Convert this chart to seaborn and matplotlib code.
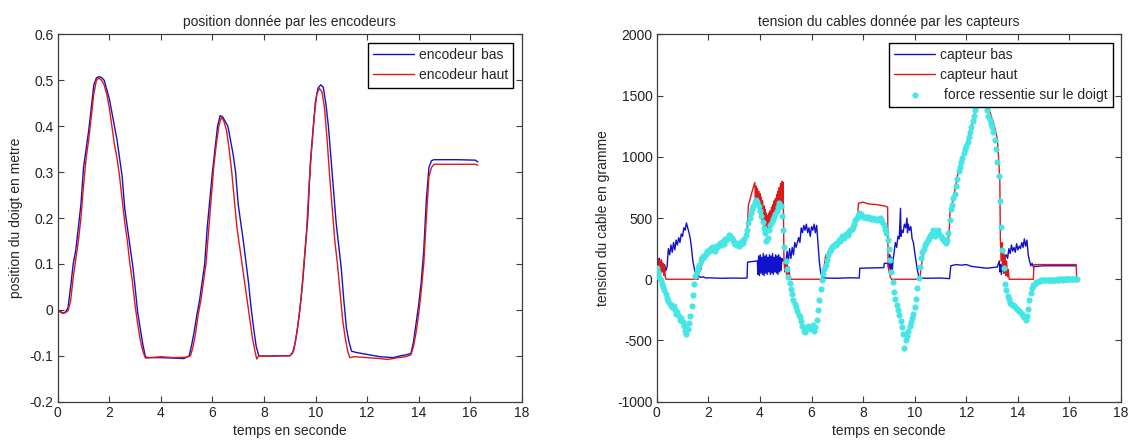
import numpy as np
import pandas as pd
import matplotlib
matplotlib.use("Agg")
import matplotlib.pyplot as plt
import seaborn as sns

# ---------------- data : left panel (position in metres) ----------------
encodeur_bas = [
    (0.0, 0.0), (0.1, -0.003), (0.2, -0.007), (0.3, -0.005), (0.4, 0.005), (0.5, 0.05),
    (0.6, 0.10), (0.7, 0.13), (0.8, 0.18), (0.9, 0.23), (1.0, 0.31), (1.1, 0.35), (1.2, 0.39),
    (1.3, 0.44), (1.4, 0.49), (1.5, 0.505), (1.6, 0.508), (1.7, 0.506), (1.8, 0.50), (1.9, 0.48),
    (2.0, 0.46), (2.1, 0.43), (2.2, 0.40), (2.3, 0.37), (2.4, 0.33), (2.5, 0.29), (2.6, 0.22),
    (2.7, 0.18), (2.8, 0.14), (2.9, 0.10), (3.0, 0.05), (3.1, -0.005), (3.2, -0.04), (3.3, -0.075),
    (3.4, -0.102), (3.5, -0.104), (4.0, -0.104), (4.5, -0.105), (4.9, -0.106), (5.1, -0.10),
    (5.2, -0.075), (5.3, -0.045), (5.4, -0.01), (5.5, 0.02), (5.6, 0.06), (5.7, 0.10), (5.8, 0.18),
    (5.9, 0.24), (6.0, 0.30), (6.1, 0.35), (6.2, 0.40), (6.3, 0.423), (6.4, 0.42), (6.5, 0.41),
    (6.6, 0.40), (6.7, 0.37), (6.8, 0.34), (6.9, 0.30), (7.0, 0.23), (7.1, 0.19), (7.2, 0.15),
    (7.3, 0.105), (7.4, 0.06), (7.5, 0.005), (7.6, -0.04), (7.7, -0.08), (7.8, -0.10), (8.0, -0.101),
    (8.5, -0.10), (9.0, -0.10), (9.1, -0.095), (9.2, -0.075), (9.3, -0.04), (9.4, 0.005), (9.5, 0.06),
    (9.6, 0.13), (9.7, 0.20), (9.8, 0.32), (9.9, 0.39), (10.0, 0.455), (10.1, 0.483), (10.2, 0.49),
    (10.3, 0.485), (10.4, 0.45), (10.5, 0.40), (10.6, 0.33), (10.7, 0.26), (10.8, 0.19), (10.9, 0.14),
    (11.0, 0.09), (11.1, 0.02), (11.2, -0.04), (11.3, -0.07), (11.4, -0.09), (11.6, -0.093),
    (12.0, -0.097), (12.5, -0.102), (13.0, -0.104), (13.3, -0.10), (13.5, -0.098), (13.7, -0.095),
    (13.8, -0.07), (13.9, -0.03), (14.0, 0.01), (14.1, 0.06), (14.2, 0.13), (14.3, 0.24),
    (14.4, 0.31), (14.5, 0.325), (14.6, 0.327), (15.5, 0.327), (16.2, 0.326), (16.3, 0.322),
]
encodeur_haut = [
    (0.0, 0.0), (0.1, -0.005), (0.2, -0.008), (0.3, -0.006), (0.4, -0.002), (0.5, 0.02),
    (0.6, 0.07), (0.7, 0.11), (0.8, 0.15), (0.9, 0.20), (1.0, 0.27), (1.1, 0.33), (1.2, 0.37),
    (1.3, 0.42), (1.4, 0.47), (1.5, 0.50), (1.6, 0.505), (1.7, 0.50), (1.8, 0.49), (1.9, 0.47),
    (2.0, 0.44), (2.1, 0.40), (2.2, 0.36), (2.3, 0.33), (2.4, 0.29), (2.5, 0.24), (2.6, 0.19),
    (2.7, 0.15), (2.8, 0.10), (2.9, 0.06), (3.0, 0.01), (3.1, -0.03), (3.2, -0.065), (3.3, -0.09),
    (3.4, -0.105), (3.6, -0.104), (4.0, -0.102), (4.5, -0.104), (5.0, -0.103), (5.15, -0.10),
    (5.25, -0.08), (5.35, -0.05), (5.45, -0.01), (5.55, 0.02), (5.65, 0.06), (5.75, 0.10),
    (5.85, 0.17), (5.95, 0.24), (6.05, 0.31), (6.15, 0.36), (6.25, 0.40), (6.35, 0.42), (6.45, 0.41),
    (6.55, 0.39), (6.65, 0.35), (6.75, 0.30), (6.85, 0.24), (6.95, 0.18), (7.05, 0.14), (7.15, 0.10),
    (7.25, 0.06), (7.35, 0.02), (7.45, -0.02), (7.55, -0.06), (7.65, -0.09), (7.72, -0.107),
    (7.8, -0.10), (8.2, -0.101), (8.7, -0.10), (9.0, -0.10), (9.15, -0.09), (9.25, -0.06),
    (9.35, -0.02), (9.45, 0.03), (9.55, 0.10), (9.65, 0.17), (9.75, 0.27), (9.85, 0.35), (9.95, 0.42),
    (10.05, 0.47), (10.15, 0.482), (10.25, 0.475), (10.35, 0.44), (10.45, 0.37), (10.55, 0.29),
    (10.65, 0.22), (10.75, 0.15), (10.85, 0.10), (10.95, 0.04), (11.05, -0.02), (11.15, -0.06),
    (11.25, -0.09), (11.33, -0.104), (11.5, -0.102), (12.0, -0.104), (12.5, -0.106), (12.8, -0.108),
    (13.2, -0.104), (13.5, -0.102), (13.7, -0.098), (13.8, -0.08), (13.9, -0.05), (14.0, -0.01),
    (14.1, 0.04), (14.2, 0.10), (14.3, 0.20), (14.4, 0.29), (14.5, 0.31), (14.6, 0.317),
    (16.2, 0.317), (16.3, 0.315),
]

# ---------------- data : right panel (tension in grams) ----------------
capteur_bas = [
    (0.0, 150), (0.05, 60), (0.1, 170), (0.15, 80), (0.2, 140), (0.25, 60), (0.3, 120), (0.35, 70),
    (0.4, 100), (0.45, 250), (0.5, 200), (0.55, 280), (0.6, 220), (0.65, 300), (0.7, 240),
    (0.75, 320), (0.8, 280), (0.85, 340), (0.9, 300), (0.95, 370), (1.0, 350), (1.05, 420),
    (1.1, 400), (1.15, 460), (1.2, 420), (1.25, 380), (1.3, 330), (1.35, 250), (1.4, 150),
    (1.45, 90), (1.5, 50), (1.6, 30), (1.7, 15), (1.8, 20), (1.9, 10), (2.0, 12), (2.5, 8),
    (3.0, 10), (3.3, 8), (3.5, 10), (3.52, 140), (3.9, 150),
    (3.92, 40), (3.95, 190), (3.98, 30), (4.01, 200), (4.04, 50), (4.07, 180), (4.10, 40),
    (4.13, 210), (4.16, 30), (4.19, 190), (4.22, 50), (4.25, 200), (4.28, 40), (4.31, 180),
    (4.34, 60), (4.37, 200), (4.40, 40), (4.43, 190), (4.46, 50), (4.49, 210), (4.52, 40),
    (4.55, 180), (4.58, 60), (4.61, 200), (4.64, 50), (4.67, 190), (4.70, 40), (4.73, 200),
    (4.76, 60), (4.79, 180), (4.82, 70), (4.85, 170), (4.88, 150),
    (4.95, 160), (5.0, 120), (5.05, 230), (5.1, 150), (5.15, 250), (5.2, 170), (5.25, 260),
    (5.3, 200), (5.35, 300), (5.4, 260), (5.5, 340), (5.55, 300), (5.6, 420), (5.65, 380),
    (5.7, 440), (5.75, 400), (5.8, 450), (5.85, 380), (5.9, 420), (5.95, 350), (6.0, 430),
    (6.05, 400), (6.1, 450), (6.15, 380), (6.2, 440), (6.25, 300), (6.3, 150), (6.35, 60),
    (6.4, 20), (6.5, 10), (7.0, 8), (7.5, 12), (7.85, 10), (7.87, 90), (8.8, 95), (8.82, 130),
    (8.95, 130), (9.0, 90), (9.03, 200), (9.06, 60), (9.1, 180), (9.13, 70), (9.16, 150),
    (9.2, 220), (9.25, 300), (9.3, 260), (9.35, 350), (9.4, 330), (9.45, 580), (9.47, 350),
    (9.5, 400), (9.55, 380), (9.6, 450), (9.65, 420), (9.7, 500), (9.72, 380), (9.75, 450),
    (9.8, 400), (9.85, 430), (9.9, 330), (9.95, 300), (10.0, 220), (10.05, 150), (10.1, 80),
    (10.15, 30), (10.2, 10), (10.5, 8), (11.0, 10), (11.35, 5), (11.4, 110), (11.6, 120),
    (11.8, 115), (12.0, 120), (12.2, 105), (12.4, 100), (12.6, 95), (12.8, 90), (13.0, 95),
    (13.2, 100), (13.28, 150), (13.3, 60), (13.33, 120), (13.36, 40), (13.4, 130), (13.45, 50),
    (13.5, 180), (13.55, 200), (13.6, 170), (13.65, 250), (13.7, 210), (13.75, 280), (13.8, 230),
    (13.85, 260), (13.9, 220), (13.95, 290), (14.0, 240), (14.05, 270), (14.1, 250), (14.15, 300),
    (14.2, 260), (14.25, 330), (14.3, 270), (14.35, 320), (14.4, 200), (14.45, 150), (14.5, 110),
    (14.55, 130), (14.6, 100), (14.7, 105), (15.0, 110), (16.26, 110),
]
capteur_haut = [
    (0.0, 180), (0.03, 60), (0.06, 170), (0.09, 50), (0.12, 150), (0.15, 40), (0.18, 160),
    (0.21, 60), (0.24, 130), (0.27, 30), (0.3, 120), (0.33, 20), (0.36, 0), (1.6, 0), (1.63, 120),
    (1.66, 60), (1.69, 180), (1.72, 80), (1.75, 140), (1.8, 150), (1.9, 190), (2.0, 220),
    (2.3, 260), (2.6, 290), (2.9, 330), (3.2, 280), (3.4, 310), (3.5, 380), (3.55, 600),
    (3.7, 720), (3.8, 790),
    (3.825, 650), (3.85, 760), (3.875, 620), (3.9, 740), (3.925, 590), (3.95, 720), (3.975, 560),
    (4.0, 700), (4.025, 520), (4.05, 670), (4.075, 480), (4.1, 640), (4.125, 450), (4.15, 600),
    (4.175, 420), (4.2, 570), (4.225, 400), (4.25, 540), (4.275, 390), (4.3, 520), (4.325, 400),
    (4.35, 540), (4.375, 410), (4.4, 560), (4.425, 430), (4.45, 590), (4.475, 450), (4.5, 610),
    (4.525, 470), (4.55, 640), (4.575, 490), (4.6, 660), (4.625, 510), (4.65, 690), (4.675, 530),
    (4.7, 720), (4.725, 550), (4.75, 750), (4.775, 570), (4.8, 780), (4.825, 580), (4.85, 800),
    (4.875, 600), (4.9, 790),
    (4.93, 180), (4.96, 60), (5.0, 150), (5.03, 40), (5.06, 130), (5.1, 20), (5.13, 100),
    (5.16, 0), (6.4, 0), (6.45, 60), (6.5, 120), (6.55, 200), (6.6, 160), (6.65, 230), (6.7, 250),
    (7.0, 290), (7.3, 340), (7.6, 410), (7.7, 440), (7.78, 500), (7.82, 620), (8.0, 630),
    (8.2, 615), (8.5, 610), (8.8, 600), (8.95, 590), (8.97, 100), (9.05, 20), (9.1, 0), (10.2, 0),
    (10.25, 100), (10.35, 230), (10.6, 330), (10.9, 380), (11.2, 320), (11.33, 350), (11.37, 560),
    (11.5, 660), (11.7, 900), (11.9, 1040), (12.1, 1170), (12.3, 1340), (12.5, 1480),
    (12.65, 1560), (12.8, 1450), (13.0, 1310), (13.1, 1240), (13.2, 1150), (13.25, 1000),
    (13.3, 800), (13.32, 330), (13.35, 150), (13.38, 300), (13.41, 80), (13.44, 250), (13.47, 50),
    (13.5, 200), (13.53, 30), (13.56, 150), (13.6, 20), (13.63, 80), (13.66, 0), (14.6, 0),
    (14.62, 120), (16.26, 120), (16.28, 0),
]
# force felt on the finger, one sample every 0.05 s from t = 0
force_doigt = [
    90, 60, 20, -10, -40, -60, -90, -120, -150, -180, -200, -210, -230, -220, -250, -280, -270, -300, -330, -320,
    -350, -380, -420, -450, -410, -360, -300, -220, -130, -40, 30, 60, 90, 120, 150, 170, 190, 180, 210, 230,
    220, 250, 240, 260, 250, 230, 270, 260, 280, 300, 280, 310, 290, 330, 320, 340, 360, 350, 340, 320,
    300, 290, 280, 300, 270, 290, 310, 300, 330, 360, 400, 460, 500, 540, 570, 600, 630, 650, 630, 600,
    560, 520, 470, 420, 380, 310, 340, 400, 440, 470, 490, 510, 530, 560, 590, 620, 600, 520, 400, 260,
    150, 80, 20, -30, -80, -120, -170, -200, -230, -260, -290, -310, -340, -380, -420, -430, -400, -380, -390, -410,
    -400, -370, -420, -390, -330, -250, -170, -80, -10, 40, 80, 120, 160, 200, 230, 250, 260, 270, 290, 280,
    300, 320, 310, 330, 350, 340, 360, 370, 360, 390, 400, 410, 430, 450, 480, 500, 520, 540, 530, 520,
    510, 505, 510, 500, 505, 500, 495, 500, 490, 495, 490, 485, 495, 500, 490, 470, 440, 410, 380, 320,
    250, 160, 60, -20, -100, -160, -210, -250, -290, -340, -390, -450, -560, -500, -460, -420, -380, -350, -320, -280,
    -230, -160, -70, 10, 100, 170, 220, 250, 280, 300, 320, 340, 350, 370, 400, 370, 350, 380, 400, 370,
    350, 340, 330, 310, 300, 320, 380, 480, 570, 610, 660, 700, 760, 820, 880, 920, 960, 990, 1030, 1060,
    1090, 1120, 1160, 1200, 1240, 1290, 1330, 1380, 1420, 1460, 1500, 1530, 1540, 1530, 1490, 1430, 1380, 1330, 1300, 1270,
    1240, 1200, 1140, 1060, 960, 840, 640, 430, 240, 90, -40, -90, -140, -160, -190, -200, -210, -220, -230, -240,
    -250, -260, -270, -280, -300, -310, -330, -300, -240, -170, -110, -70, -50, -35, -25, -20, -15, -12, -10, -8,
    -7, -6, -5, -5, -4, -4, -3, -3, -4, -3, -3, -2, -3, -2, -2, -3, -2, -2, -1, -2,
    -1, -1, 0, -1, 0, 0, -1,
]

x_ticks = [0, 2, 4, 6, 8, 10, 12, 14, 16, 18]
left_yticks = [-0.2, -0.1, 0, 0.1, 0.2, 0.3, 0.4, 0.5, 0.6]
left_yticklabels = ["-0.2", "-0.1", "0", "0.1", "0.2", "0.3", "0.4", "0.5", "0.6"]
right_yticks = [-1000, -500, 0, 500, 1000, 1500, 2000]

# ---------------- style ----------------
sns.set_style("white")
plt.rcParams["font.family"] = ["Liberation Sans", "DejaVu Sans"]
plt.rcParams["font.size"] = 10
plt.rcParams["axes.unicode_minus"] = False

BLUE = "#1212cc"
RED = "#e01818"
CYAN = "#44e6e6"
AX_COL = "#3c3c3c"


def frame(pairs):
    return pd.DataFrame(pairs, columns=["t", "v"])


fig = plt.figure(figsize=(11.3, 4.4), dpi=100)
ax1 = fig.add_axes([0.0511, 0.0870, 0.4106, 0.835])
ax2 = fig.add_axes([0.5812, 0.0870, 0.4109, 0.835])

# left panel
sns.lineplot(data=frame(encodeur_bas), x="t", y="v", ax=ax1, color=BLUE, lw=1.0,
             sort=False, estimator=None, label="encodeur bas")
sns.lineplot(data=frame(encodeur_haut), x="t", y="v", ax=ax1, color=RED, lw=1.0,
             sort=False, estimator=None, label="encodeur haut")

# right panel
sns.lineplot(data=frame(capteur_bas), x="t", y="v", ax=ax2, color=BLUE, lw=1.0,
             sort=False, estimator=None, label="capteur bas")
sns.lineplot(data=frame(capteur_haut), x="t", y="v", ax=ax2, color=RED, lw=1.0,
             sort=False, estimator=None, label="capteur haut")
force_df = pd.DataFrame({"t": np.arange(len(force_doigt)) * 0.05, "v": force_doigt})
sns.scatterplot(data=force_df, x="t", y="v", ax=ax2, color=CYAN, marker="o", s=15,
                edgecolor=CYAN, linewidth=0.5, label=" force ressentie sur le doigt", zorder=3)

for ax, yt, ylim, ylab, title in [
    (ax1, left_yticks, (-0.2, 0.6), "position du doigt en metre", "position donnée par les encodeurs"),
    (ax2, right_yticks, (-1000, 2000), "tension du cable en gramme", "tension du cables donnée par les capteurs"),
]:
    ax.set_xlim(0, 18)
    ax.set_ylim(*ylim)
    ax.set_xticks(x_ticks)
    ax.set_yticks(yt)
    if ax is ax1:
        ax.set_yticklabels(left_yticklabels)
    ax.set_xlabel("temps en seconde", fontsize=10, labelpad=3)
    ax.set_ylabel(ylab, fontsize=10, labelpad=5)
    ax.set_title(title, fontsize=10, pad=6)
    ax.tick_params(which="both", direction="in", top=True, right=True, bottom=True, left=True,
                   length=4, width=0.8, color=AX_COL, labelsize=10, labelcolor="#222222", pad=3)
    for sp in ax.spines.values():
        sp.set_color(AX_COL)
        sp.set_linewidth(0.9)
    leg = ax.legend(loc="upper right", fontsize=10, frameon=True, fancybox=False, framealpha=1,
                    edgecolor="black", handlelength=2.9, handletextpad=0.35, labelspacing=0.42,
                    borderpad=0.4, borderaxespad=0.6, scatterpoints=1)
    leg.get_frame().set_linewidth(1.0)

fig.savefig("out.png", dpi=100, facecolor="white")
